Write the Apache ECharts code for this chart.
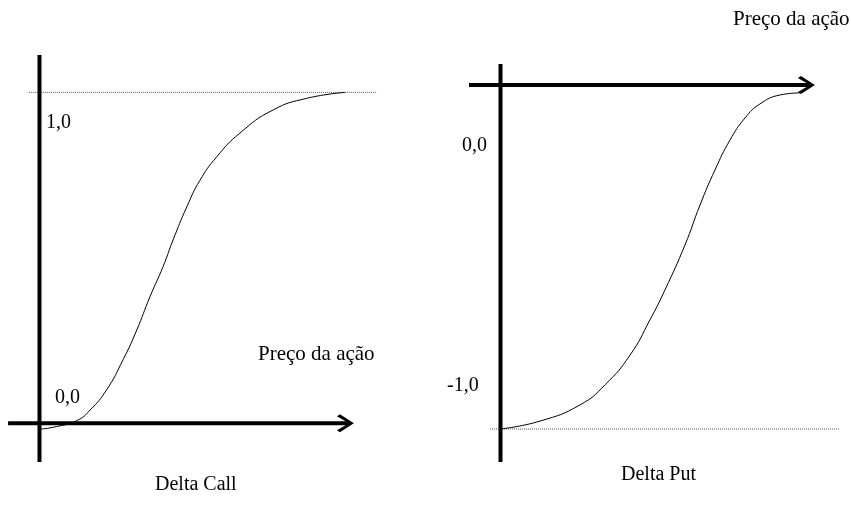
<!DOCTYPE html>
<html>
<head>
<meta charset="utf-8">
<script src="https://cdn.jsdelivr.net/npm/echarts@6/dist/echarts.min.js"></script>
<style>html,body{margin:0;padding:0;background:#fff;}#c{width:851px;height:519px;}</style>
</head>
<body>
<div id="c"></div>
<script>
// ---- data ----
const callPrice = [0, 0.56, 1.22, 1.66, 2.20, 2.74, 3.19, 3.62, 4.05, 4.38, 4.83, 5.26, 5.81, 6.57, 7.66, 8.76, 10.02];
const callDelta = [-0.018, -0.010, 0.008, 0.040, 0.101, 0.192, 0.282, 0.382, 0.473, 0.554, 0.654, 0.734, 0.805, 0.877, 0.947, 0.982, 1.0];
const putPrice = [0, 1.32, 2.65, 3.48, 4.32, 4.98, 5.48, 6.15, 6.65, 7.15, 7.65, 8.15, 8.65, 9.32, 9.98];
const putDelta = [-1.0, -0.977, -0.930, -0.872, -0.785, -0.683, -0.596, -0.465, -0.349, -0.247, -0.160, -0.096, -0.055, -0.029, -0.023];
const callLevels = ['0,0', '1,0'];
const putLevels = ['0,0', '-1,0'];
const xLabel = 'Preço da ação';
const titles = ['Delta Call', 'Delta Put'];

// ---- layout helpers ----
const arrowPath = 'path://M0,2 L3,0 L17,9 L3,18 L0,16 L12,9 Z';
const FONT = '"Liberation Serif", "Times New Roman", serif';

function pairs(xs, ys) { return xs.map((x, i) => [x, ys[i]]); }

function axisLine(idx, pts, arrow, pxPerUnit) {
  const data = pts.map(p => ({ value: p, symbol: 'none' }));
  if (arrow) {
    const last = data[data.length - 1];
    last.value = [last.value[0] - 4 / pxPerUnit, last.value[1]];
    last.symbol = arrowPath;
    last.symbolSize = [17, 18];
    last.symbolOffset = [-4.5, 0];
  }
  return {
    type: 'line', xAxisIndex: idx, yAxisIndex: idx, data: data,
    showSymbol: true, showAllSymbol: true, clip: false, silent: true,
    lineStyle: { color: '#000', width: 4 }, itemStyle: { color: '#000', borderWidth: 0 },
    emphasis: { disabled: true }, z: 3
  };
}
function dotted(idx, pts) {
  return {
    type: 'line', xAxisIndex: idx, yAxisIndex: idx, data: pts, symbol: 'none', clip: false, silent: true,
    lineStyle: { color: '#555', width: 1, type: [1, 1] }, z: 1
  };
}
function curve(idx, pts) {
  return {
    type: 'line', xAxisIndex: idx, yAxisIndex: idx, data: pts, symbol: 'none', smooth: 0.5,
    clip: false, silent: true, lineStyle: { color: '#000', width: 1 }, z: 2
  };
}

const chart = echarts.init(document.getElementById('c'), null, { renderer: 'canvas' });
const sL = 30.5, sR = 30;
const option = {
  animation: false,
  backgroundColor: '#fff',
  grid: [
    { left: 9, top: 55, width: 369, height: 407 },
    { left: 469, top: 64, width: 370, height: 398 }
  ],
  xAxis: [
    { type: 'value', gridIndex: 0, min: -1, max: 11.1, show: false },
    { type: 'value', gridIndex: 1, min: -1.05, max: 11.283, show: false }
  ],
  yAxis: [
    { type: 'value', gridIndex: 0, min: -0.117, max: 1.113, show: false },
    { type: 'value', gridIndex: 1, min: -1.096, max: 0.061, show: false }
  ],
  series: [
    dotted(0, [[-0.34, 1], [11.07, 1]]),
    axisLine(0, [[0, -0.117], [0, 1.113]], false, sL),
    axisLine(0, [[-1.03, 0], [10.31, 0]], true, sL),
    curve(0, pairs(callPrice, callDelta)),
    dotted(1, [[-0.35, -1], [11.28, -1]]),
    axisLine(1, [[0, -1.096], [0, 0.061]], false, sR),
    axisLine(1, [[-1.05, 0], [10.48, 0]], true, sR),
    curve(1, pairs(putPrice, putDelta))
  ],
  graphic: [
    { type: 'text', left: 46, top: 113, style: { text: callLevels[1], font: '20px ' + FONT, fill: '#000' } },
    { type: 'text', left: 55, top: 388, style: { text: callLevels[0], font: '20px ' + FONT, fill: '#000' } },
    { type: 'text', left: 258, top: 344, style: { text: xLabel, font: '21px ' + FONT, fill: '#000' } },
    { type: 'text', left: 155, top: 475, style: { text: titles[0], font: '20px ' + FONT, fill: '#000' } },
    { type: 'text', left: 462, top: 136, style: { text: putLevels[0], font: '20px ' + FONT, fill: '#000' } },
    { type: 'text', left: 447, top: 376, style: { text: putLevels[1], font: '20px ' + FONT, fill: '#000' } },
    { type: 'text', left: 733, top: 9, style: { text: xLabel, font: '21px ' + FONT, fill: '#000' } },
    { type: 'text', left: 621, top: 465, style: { text: titles[1], font: '20px ' + FONT, fill: '#000' } }
  ]
};
chart.setOption(option);
</script>
</body>
</html>
